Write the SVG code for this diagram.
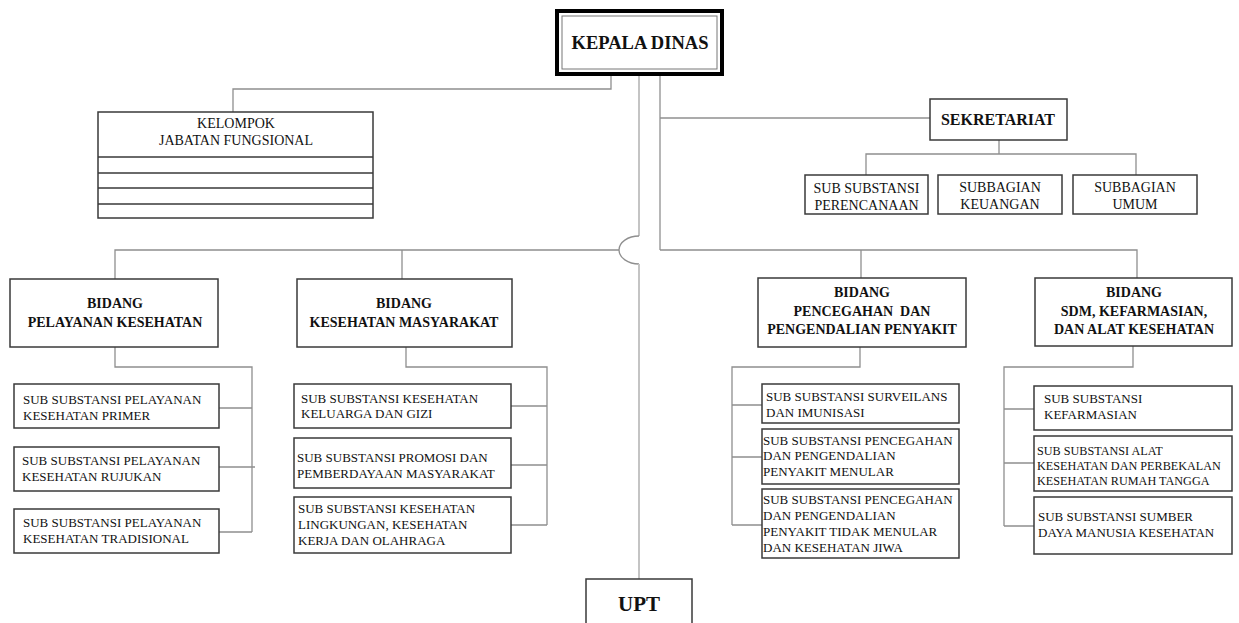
<svg xmlns="http://www.w3.org/2000/svg" width="1239" height="623" viewBox="0 0 1239 623">
<style>
.box{fill:#fff;stroke:#3a3a3a;stroke-width:1.5}
.ln{fill:none;stroke:#8f8f8f;stroke-width:1.3}
.ctr{fill:none;stroke:#c4c4c4;stroke-width:2}
text{font-family:"Liberation Serif","Times New Roman",serif;fill:#111}
.b{font-weight:bold}
.c{text-anchor:middle}
.s13{font-size:13px}
.s14{font-size:14px}
</style>
<rect width="1239" height="623" fill="#fff"/>
<g id="connectors">
  <path class="ctr" d="M639,76 V236"/>
  <path class="ln" d="M639,236 A20 14 0 0 0 639,264"/>
  <path class="ctr" d="M639,264 V579"/>
  <path class="ln" d="M611,76 V89 H233 V112"/>
  <path class="ln" d="M660,76 V250"/>
  <path class="ln" d="M660,118 H930"/>
  <path class="ln" d="M999,140 V154"/>
  <path class="ln" d="M866,175 V154 H1136 V175"/>
  <path class="ln" d="M115,279 V250 H619"/>
  <path class="ln" d="M660,250 H1137 V278"/>
  <path class="ln" d="M402,250 V279"/>
  <path class="ln" d="M861,250 V278"/>
  <path class="ln" d="M115,347 V367 H252 V532"/>
  <path class="ln" d="M219,408 H252 M219,467 H255 M219,532 H252"/>
  <path class="ln" d="M406,347 V367 H547 V525"/>
  <path class="ln" d="M511,406 H547 M511,465 H547 M511,525 H547"/>
  <path class="ln" d="M860,347 V367 H732 V525"/>
  <path class="ln" d="M732,405 H762 M732,457 H762 M732,525 H762"/>
  <path class="ln" d="M1133,346 V367 H1004 V526"/>
  <path class="ln" d="M1004,409 H1034 M1004,463 H1034 M1004,526 H1034"/>
</g>
<g id="kepala-dinas">
  <rect x="557" y="11" width="165" height="63" fill="#fff" stroke="#000" stroke-width="4"/>
  <rect x="562" y="16" width="155" height="53" fill="none" stroke="#777" stroke-width="1"/>
  <text class="b c" x="640" y="49" font-size="18.5px">KEPALA DINAS</text>
</g>
<g id="kelompok">
  <rect class="box" x="98" y="112" width="275" height="106"/>
  <path d="M98,157 H373 M98,173 H373 M98,188 H373 M98,204 H373" stroke="#3a3a3a" stroke-width="1.3"/>
  <text class="c s14" x="236" y="128">KELOMPOK</text>
  <text class="c s14" x="236" y="145">JABATAN FUNGSIONAL</text>
</g>
<g id="sekretariat">
  <rect class="box" x="930" y="99" width="137" height="41"/>
  <text class="b c" x="998" y="125" font-size="16px">SEKRETARIAT</text>
</g>
<g id="sub-perencanaan">
  <rect class="box" x="805" y="175" width="123" height="39"/>
  <text class="c s14" x="866.5" y="193">SUB SUBSTANSI</text>
  <text class="c s14" x="866.5" y="210">PERENCANAAN</text>
</g>
<g id="sub-keuangan">
  <rect class="box" x="938" y="175" width="124" height="39"/>
  <text class="c s14" x="1000" y="192">SUBBAGIAN</text>
  <text class="c s14" x="1000" y="209">KEUANGAN</text>
</g>
<g id="sub-umum">
  <rect class="box" x="1073" y="175" width="124" height="39"/>
  <text class="c s14" x="1135" y="192">SUBBAGIAN</text>
  <text class="c s14" x="1135" y="209">UMUM</text>
</g>
<g id="bidang-pelayanan">
  <rect class="box" x="10" y="279" width="208" height="68"/>
  <text class="b c s14" x="115" y="308">BIDANG</text>
  <text class="b c s14" x="115" y="327">PELAYANAN KESEHATAN</text>
</g>
<g id="bidang-kesmas">
  <rect class="box" x="297" y="279" width="215" height="68"/>
  <text class="b c s14" x="404" y="308">BIDANG</text>
  <text class="b c s14" x="404" y="327">KESEHATAN MASYARAKAT</text>
</g>
<g id="bidang-p2p">
  <rect class="box" x="758" y="278" width="208" height="69"/>
  <text class="b c s14" x="862" y="297">BIDANG</text>
  <text class="b c s14" x="862" y="316" xml:space="preserve">PENCEGAHAN  DAN</text>
  <text class="b c s14" x="862" y="334">PENGENDALIAN PENYAKIT</text>
</g>
<g id="bidang-sdm">
  <rect class="box" x="1035" y="278" width="197" height="68"/>
  <text class="b c s14" x="1134" y="297">BIDANG</text>
  <text class="b c s14" x="1134" y="316">SDM, KEFARMASIAN,</text>
  <text class="b c s14" x="1134" y="334">DAN ALAT KESEHATAN</text>
</g>
<g id="pelayanan-primer">
  <rect class="box" x="14" y="384" width="205" height="44"/>
  <text class="s13" x="23" y="404">SUB SUBSTANSI PELAYANAN</text>
  <text class="s13" x="23" y="420">KESEHATAN PRIMER</text>
</g>
<g id="pelayanan-rujukan">
  <rect class="box" x="14" y="447" width="205" height="44"/>
  <text class="s13" x="22" y="465">SUB SUBSTANSI PELAYANAN</text>
  <text class="s13" x="22" y="481">KESEHATAN RUJUKAN</text>
</g>
<g id="pelayanan-tradisional">
  <rect class="box" x="14" y="509" width="205" height="44"/>
  <text class="s13" x="23" y="527">SUB SUBSTANSI PELAYANAN</text>
  <text class="s13" x="23" y="543">KESEHATAN TRADISIONAL</text>
</g>
<g id="kesmas-gizi">
  <rect class="box" x="294" y="384" width="217" height="44"/>
  <text class="s13" x="301" y="403">SUB SUBSTANSI KESEHATAN</text>
  <text class="s13" x="301" y="418">KELUARGA DAN GIZI</text>
</g>
<g id="kesmas-promosi">
  <rect class="box" x="294" y="438" width="217" height="50"/>
  <text class="s13" x="297" y="462">SUB SUBSTANSI PROMOSI DAN</text>
  <text class="s13" x="297" y="478">PEMBERDAYAAN MASYARAKAT</text>
</g>
<g id="kesmas-lingkungan">
  <rect class="box" x="294" y="497" width="217" height="56"/>
  <text class="s13" x="298" y="513">SUB SUBSTANSI KESEHATAN</text>
  <text class="s13" x="298" y="529">LINGKUNGAN, KESEHATAN</text>
  <text class="s13" x="298" y="545">KERJA DAN OLAHRAGA</text>
</g>
<g id="p2p-surveilans">
  <rect class="box" x="762" y="384" width="197" height="39"/>
  <text class="s13" x="766" y="401">SUB SUBSTANSI SURVEILANS</text>
  <text class="s13" x="766" y="417">DAN IMUNISASI</text>
</g>
<g id="p2p-menular">
  <rect class="box" x="762" y="429" width="197" height="55"/>
  <text class="s13" x="763" y="445">SUB SUBSTANSI PENCEGAHAN</text>
  <text class="s13" x="763" y="460">DAN PENGENDALIAN</text>
  <text class="s13" x="763" y="476">PENYAKIT MENULAR</text>
</g>
<g id="p2p-tidak-menular">
  <rect class="box" x="762" y="489" width="197" height="69"/>
  <text class="s13" x="763" y="504">SUB SUBSTANSI PENCEGAHAN</text>
  <text class="s13" x="763" y="520">DAN PENGENDALIAN</text>
  <text class="s13" x="763" y="536">PENYAKIT TIDAK MENULAR</text>
  <text class="s13" x="763" y="552">DAN KESEHATAN JIWA</text>
</g>
<g id="sdm-kefarmasian">
  <rect class="box" x="1034" y="386" width="198" height="44"/>
  <text class="s13" x="1044" y="403">SUB SUBSTANSI</text>
  <text class="s13" x="1044" y="419">KEFARMASIAN</text>
</g>
<g id="sdm-alkes">
  <rect class="box" x="1034" y="436" width="198" height="55"/>
  <text x="1037" y="455" font-size="12.2px">SUB SUBSTANSI ALAT</text>
  <text x="1037" y="470" font-size="12.2px">KESEHATAN DAN PERBEKALAN</text>
  <text x="1037" y="485" font-size="12.2px">KESEHATAN RUMAH TANGGA</text>
</g>
<g id="sdm-sdmk">
  <rect class="box" x="1034" y="497" width="198" height="57"/>
  <text class="s13" x="1038" y="521">SUB SUBSTANSI SUMBER</text>
  <text class="s13" x="1038" y="537">DAYA MANUSIA KESEHATAN</text>
</g>
<g id="upt">
  <rect class="box" x="586" y="579" width="106" height="50"/>
  <text class="b c" x="639" y="611" font-size="21px">UPT</text>
</g>
</svg>
